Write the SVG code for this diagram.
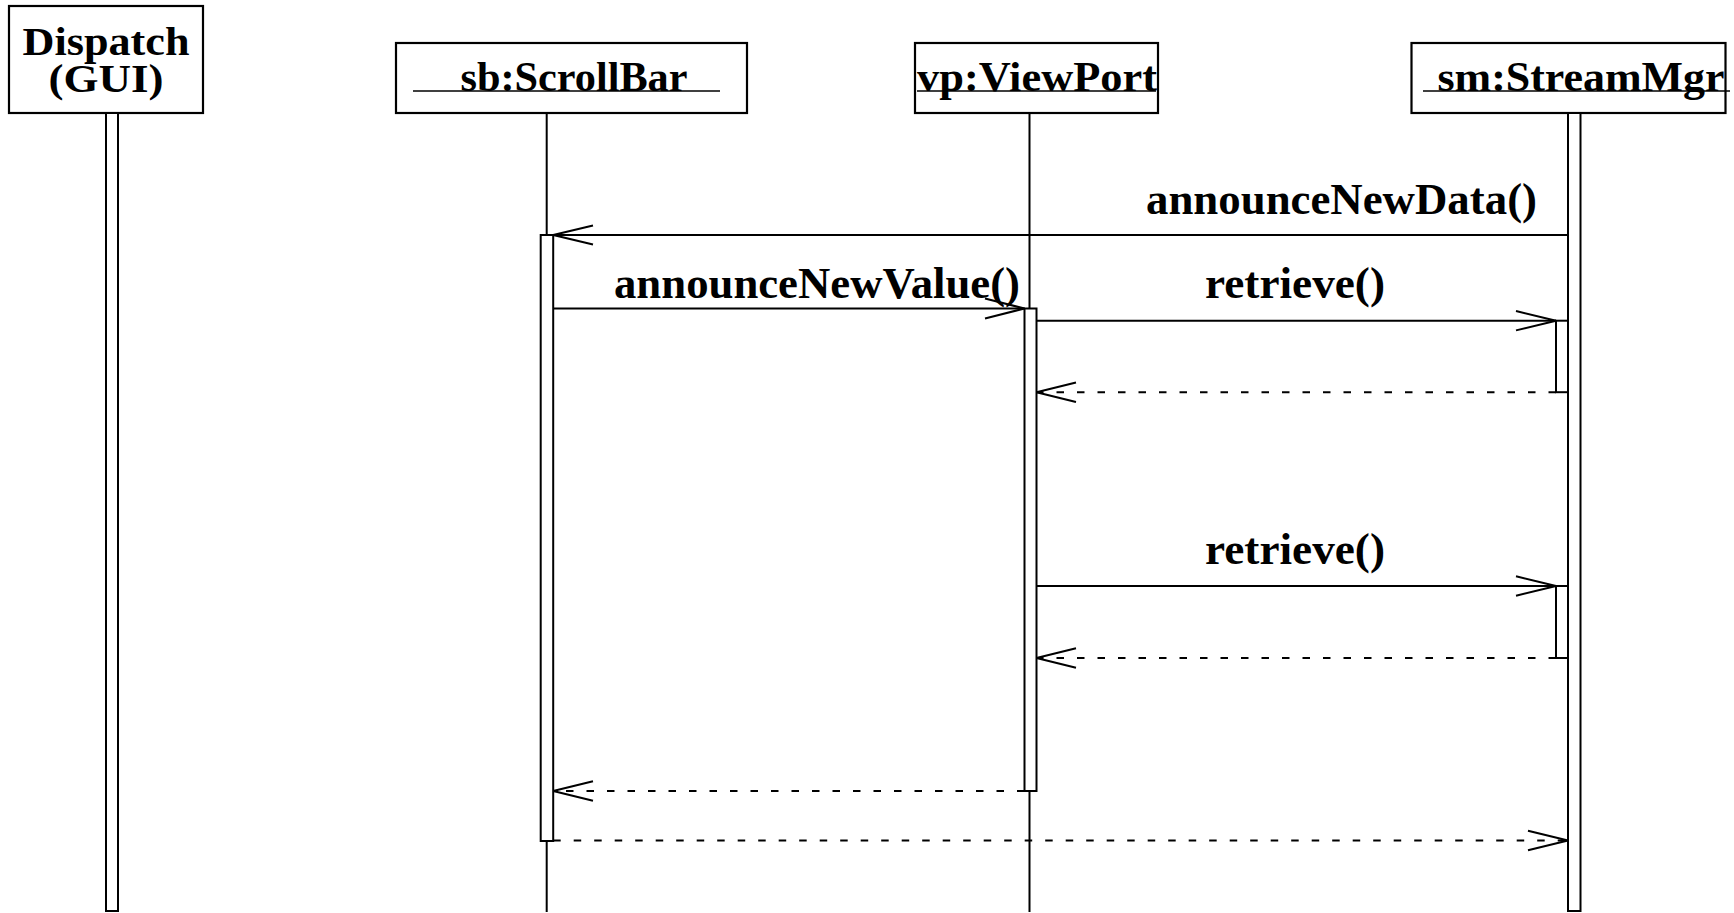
<svg xmlns="http://www.w3.org/2000/svg" width="1734" height="913" viewBox="0 0 1734 913">
  <style>
    .box { fill: #fff; stroke: #000; stroke-width: 2.2; }
    .bar { fill: #fff; stroke: #000; stroke-width: 2; }
    .life { stroke: #000; stroke-width: 2; fill: none; }
    .ul { stroke: #000; stroke-width: 1.6; }
    .lbl { font-family: "Liberation Serif", "DejaVu Serif", serif; font-weight: bold; font-size: 43px; fill: #000; }
    .lbl2 { font-family: "Liberation Serif", "DejaVu Serif", serif; font-weight: bold; font-size: 40px; fill: #000; }
    .msg { font-family: "Liberation Serif", "DejaVu Serif", serif; font-weight: bold; font-size: 44px; fill: #000; }
    .call { stroke: #000; stroke-width: 2; fill: none; }
    .ret { stroke: #000; stroke-width: 2; fill: none; stroke-dasharray: 7.5 13; }
    .head { stroke: #000; stroke-width: 2; fill: none; }
  </style>

  <!-- lifelines -->
  <g id="lifelines">
    <line class="life" x1="546.7" y1="113" x2="546.7" y2="912"/>
    <line class="life" x1="1029.5" y1="113" x2="1029.5" y2="912"/>
  </g>

  <!-- objects -->
  <g id="dispatch">
    <rect class="box" x="9" y="6" width="194" height="107"/>
    <text class="lbl2" x="106" y="55" text-anchor="middle" textLength="167" lengthAdjust="spacingAndGlyphs">Dispatch</text>
    <text class="lbl2" x="106" y="92" text-anchor="middle" textLength="115" lengthAdjust="spacingAndGlyphs">(GUI)</text>
    <rect class="bar" x="106" y="113" width="12" height="798"/>
  </g>

  <g id="scrollbar">
    <rect class="box" x="396" y="43" width="351" height="70"/>
    <text class="lbl" x="574" y="91" text-anchor="middle" textLength="227" lengthAdjust="spacingAndGlyphs">sb:ScrollBar</text>
    <line class="ul" x1="413" y1="91" x2="720" y2="91"/>
  </g>

  <g id="viewport">
    <rect class="box" x="915" y="43" width="243" height="70"/>
    <text class="lbl" x="1037" y="91" text-anchor="middle" textLength="240" lengthAdjust="spacingAndGlyphs">vp:ViewPort</text>
    <line class="ul" x1="917" y1="91" x2="1156" y2="91"/>
  </g>

  <g id="streammgr">
    <rect class="box" x="1411.5" y="43" width="314" height="70"/>
    <text class="lbl" x="1581" y="91" text-anchor="middle" textLength="287" lengthAdjust="spacingAndGlyphs">sm:StreamMgr</text>
    <line class="ul" x1="1423" y1="91" x2="1730" y2="91"/>
    <rect class="bar" x="1568" y="113" width="12.5" height="798"/>
  </g>

  <!-- activations -->
  <g id="activations">
    <rect class="bar" x="540.7" y="235" width="12.5" height="606"/>
    <rect class="bar" x="1024.5" y="308.5" width="12" height="482.5"/>
    <rect class="bar" x="1556" y="320.7" width="12" height="71.5"/>
    <rect class="bar" x="1556" y="586" width="12" height="72"/>
  </g>

  <!-- connectors -->
  <g id="connectors">
    <!-- announceNewData -->
    <line class="call" x1="1568" y1="235" x2="553.2" y2="235"/>
    <polyline class="head" points="593,225.5 553.2,235 593,244.5"/>
    <!-- announceNewValue -->
    <line class="call" x1="553.2" y1="308.5" x2="1024.5" y2="308.5"/>
    <polyline class="head" points="985,298.5 1024.5,308.5 985,318.5"/>
    <!-- retrieve 1 -->
    <line class="call" x1="1036.5" y1="320.7" x2="1556" y2="320.7"/>
    <polyline class="head" points="1516,311 1556,320.7 1516,330.4"/>
    <line class="ret" x1="1556" y1="392.2" x2="1036.5" y2="392.2"/>
    <polyline class="head" points="1076,382.5 1036.5,392.2 1076,402"/>
    <!-- retrieve 2 -->
    <line class="call" x1="1036.5" y1="586" x2="1556" y2="586"/>
    <polyline class="head" points="1516,576.3 1556,586 1516,595.7"/>
    <line class="ret" x1="1556" y1="658" x2="1036.5" y2="658"/>
    <polyline class="head" points="1076,648.3 1036.5,658 1076,667.7"/>
    <!-- return to sb -->
    <line class="ret" x1="1024.5" y1="791" x2="553.2" y2="791"/>
    <polyline class="head" points="593,781.3 553.2,791 593,800.7"/>
    <!-- sb to sm -->
    <line class="ret" x1="553.2" y1="840.5" x2="1568" y2="840.5"/>
    <polyline class="head" points="1528,830.8 1568,840.5 1528,850.2"/>
  </g>

  <!-- message labels -->
  <g id="labels">
    <text class="msg" x="1146" y="214" textLength="391" lengthAdjust="spacingAndGlyphs">announceNewData()</text>
    <text class="msg" x="614" y="298" textLength="406" lengthAdjust="spacingAndGlyphs">announceNewValue()</text>
    <text class="msg" x="1205" y="298" textLength="180" lengthAdjust="spacingAndGlyphs">retrieve()</text>
    <text class="msg" x="1205" y="564" textLength="180" lengthAdjust="spacingAndGlyphs">retrieve()</text>
  </g>
</svg>
